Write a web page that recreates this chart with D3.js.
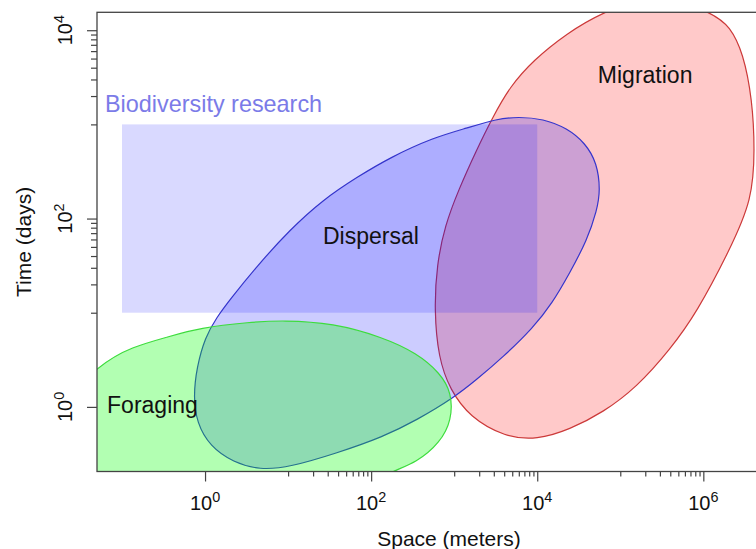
<!DOCTYPE html>
<html>
<head>
<meta charset="utf-8">
<script src="https://cdn.jsdelivr.net/npm/d3@7"></script>
<style>
  body { margin: 0; background: #fff; }
  svg { display: block; font-family: "Liberation Sans", Arial, sans-serif; }
</style>
</head>
<body>
<svg id="chart" width="756" height="549"></svg>
<script>
// outlines, as [log10 space (m), log10 time (days)]
var migration = [
  [5.45, 4.41], [6.12, 4.18], [6.32, 4.04], [6.48, 3.76], [6.59, 3.26], [6.62, 2.73],
  [6.59, 2.20], [6.32, 1.67], [5.92, 1.00], [5.60, 0.61], [5.20, 0.21], [4.79, -0.06],
  [4.39, -0.24], [4.00, -0.35], [3.61, -0.32], [3.19, -0.11], [2.95, 0.18], [2.81, 0.52],
  [2.76, 1.03], [2.79, 1.51], [2.89, 1.93], [3.05, 2.30], [3.27, 2.73], [3.46, 3.07],
  [3.67, 3.40], [3.95, 3.68], [4.36, 3.97], [4.78, 4.19]
];
var dispersal = [
  [3.77, 3.08], [4.07, 3.06], [4.36, 2.96], [4.58, 2.80], [4.72, 2.59], [4.76, 2.30],
  [4.72, 2.09], [4.60, 1.77], [4.39, 1.42], [4.18, 1.10], [3.95, 0.84], [3.59, 0.53],
  [3.27, 0.29], [3.00, 0.10], [2.55, -0.14], [2.14, -0.32], [1.59, -0.49], [1.02, -0.64],
  [0.66, -0.67], [0.34, -0.59], [0.06, -0.42], [-0.10, -0.17], [-0.14, 0.11], [-0.10, 0.42],
  [0.00, 0.74], [0.14, 0.95], [0.30, 1.14], [0.63, 1.50], [1.02, 1.88], [1.42, 2.20],
  [1.83, 2.44], [2.23, 2.65], [2.75, 2.86], [3.15, 2.96], [3.52, 3.06]
];
var foraging = [
  [-1.99, -0.19], [-1.29, 0.45], [-0.87, 0.64], [-0.46, 0.74], [-0.06, 0.84], [0.54, 0.90],
  [0.94, 0.92], [1.54, 0.89], [2.14, 0.74], [2.55, 0.57], [2.83, 0.36], [2.97, 0.15],
  [2.97, -0.14], [2.83, -0.38], [2.55, -0.59], [2.23, -0.69], [1.75, -0.93], [0.54, -1.12],
  [-0.90, -0.99], [-1.75, -0.67]
];
// biodiversity research box: space (m) and time (days)
var researchSpace = [0.1, 1e4];
var researchTime = [10, 1000];

var xMajor = [1, 1e2, 1e4, 1e6];
var yMajor = [1, 1e2, 1e4];
var xMinorDecades = [1, 3, 5];
var yMinorDecades = [1, 3];

var regionLabels = [
  {name: 'Migration', x: 4.73, y: 3.44},
  {name: 'Dispersal', x: 1.42, y: 1.73},
  {name: 'Foraging', x: -1.18, y: -0.06}
];

function drawChart() {
  var svg = d3.select('#chart');
  var pLeft = 97, pRight = 801, pTop = 12.3, pBottom = 471.5;

  var x = d3.scaleLog().domain([0.05, 1.5e7]).range([pLeft, pRight]);
  var y = d3.scaleLog().domain([0.206, 15500]).range([pBottom, pTop]);

  function minors(decades) {
    var out = [];
    decades.forEach(function(e) {
      for (var k = 1; k <= 9; k++) out.push(k * Math.pow(10, e));
    });
    return out;
  }

  svg.append('clipPath').attr('id', 'plotclip')
    .append('rect')
    .attr('x', pLeft).attr('y', pTop)
    .attr('width', pRight - pLeft).attr('height', pBottom - pTop);

  var plot = svg.append('g').attr('clip-path', 'url(#plotclip)');

  // smooth closed outline through the read points
  var line = d3.line()
    .x(function(d) { return x(Math.pow(10, d[0])); })
    .y(function(d) { return y(Math.pow(10, d[1])); })
    .curve(d3.curveBasisClosed);

  plot.append('path').datum(migration)
    .attr('d', line)
    .attr('fill', 'rgba(255,0,0,0.21)')
    .attr('stroke', '#cc3a3a').attr('stroke-width', 1.2);

  plot.append('rect')
    .attr('x', x(researchSpace[0]))
    .attr('y', y(researchTime[1]))
    .attr('width', x(researchSpace[1]) - x(researchSpace[0]))
    .attr('height', y(researchTime[0]) - y(researchTime[1]))
    .attr('fill', 'rgba(0,0,255,0.15)');

  plot.append('path').datum(dispersal)
    .attr('d', line)
    .attr('fill', 'rgba(0,0,255,0.2)')
    .attr('stroke', '#3535cc').attr('stroke-width', 1.2);

  plot.append('path').datum(foraging)
    .attr('d', line)
    .attr('fill', 'rgba(0,255,0,0.3)')
    .attr('stroke', '#3ddc3d').attr('stroke-width', 1.2);

  // box
  svg.append('rect')
    .attr('x', pLeft).attr('y', pTop)
    .attr('width', pRight - pLeft).attr('height', pBottom - pTop)
    .attr('fill', 'none').attr('stroke', '#444').attr('stroke-width', 1.3);

  // ticks
  function styleAxis(g) {
    g.select('.domain').remove();
    g.selectAll('.tick line').attr('stroke', '#444').attr('stroke-width', 1.2);
    g.selectAll('.tick text').remove();
  }
  svg.append('g').attr('transform', 'translate(0,' + pBottom + ')')
    .call(d3.axisBottom(x).tickValues(xMajor).tickSize(10)).call(styleAxis);
  svg.append('g').attr('transform', 'translate(0,' + pBottom + ')')
    .call(d3.axisBottom(x).tickValues(minors(xMinorDecades)).tickSize(5)).call(styleAxis);
  svg.append('g').attr('transform', 'translate(' + pLeft + ',0)')
    .call(d3.axisLeft(y).tickValues(yMajor).tickSize(10)).call(styleAxis);
  svg.append('g').attr('transform', 'translate(' + pLeft + ',0)')
    .call(d3.axisLeft(y).tickValues(minors(yMinorDecades)).tickSize(6)).call(styleAxis);

  // power-of-ten labels
  function powerLabel(sel) {
    sel.append('tspan').text('10');
    sel.append('tspan')
      .attr('dy', '-0.55em').attr('font-size', '0.72em')
      .text(function(d) { return Math.round(Math.log10(d)); });
  }
  svg.append('g').selectAll('text').data(xMajor).enter().append('text')
    .attr('x', function(d) { return x(d); })
    .attr('y', 510)
    .attr('text-anchor', 'middle')
    .attr('font-size', 20).attr('fill', '#111')
    .call(powerLabel);
  svg.append('g').selectAll('text').data(yMajor).enter().append('text')
    .attr('transform', function(d) { return 'translate(72,' + y(d) + ') rotate(-90)'; })
    .attr('text-anchor', 'middle')
    .attr('font-size', 20).attr('fill', '#111')
    .call(powerLabel);

  // axis titles
  svg.append('text')
    .attr('x', (pLeft + pRight) / 2).attr('y', 546)
    .attr('text-anchor', 'middle').attr('font-size', 21).attr('fill', '#111')
    .text('Space (meters)');
  svg.append('text')
    .attr('transform', 'translate(31,' + (pTop + pBottom) / 2 + ') rotate(-90)')
    .attr('text-anchor', 'middle').attr('font-size', 21).attr('fill', '#111')
    .text('Time (days)');

  // labels
  svg.append('text')
    .attr('x', 105).attr('y', 112)
    .attr('font-size', 23.4).attr('fill', '#7b7be8')
    .text('Biodiversity research');

  svg.append('g').selectAll('text').data(regionLabels).enter().append('text')
    .attr('x', function(d) { return x(Math.pow(10, d.x)); })
    .attr('y', function(d) { return y(Math.pow(10, d.y)); })
    .attr('font-size', 23).attr('fill', '#111')
    .text(function(d) { return d.name; });
}

drawChart();
</script>
</body>
</html>
